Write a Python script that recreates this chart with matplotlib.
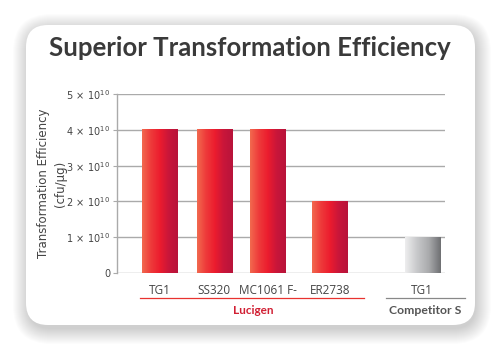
import numpy as np
import matplotlib
matplotlib.use("Agg")
import matplotlib.pyplot as plt
from matplotlib.patches import FancyBboxPatch
from matplotlib.colors import LinearSegmentedColormap

# data
strains = ["TG1", "SS320", "MC1061 F-", "ER2738", "TG1"]
efficiency = [4e10, 4e10, 4e10, 2e10, 1e10]
groups = ["Lucigen", "Competitor S"]
yticks = [0, 1e10, 2e10, 3e10, 4e10, 5e10]
ytick_labels = ["0"] + [r"%d$\,\times\,$10$^{10}$" % i for i in range(1, 6)]

# layout
bar_pos = [0, 1.01, 2.0, 3.15, 4.86]
bar_w = 0.65
is_lucigen = [True, True, True, True, False]

W, H = 500, 351
fig = plt.figure(figsize=(5, 3.51), dpi=100)
fig.patch.set_facecolor("white")
plt.rcParams["mathtext.fontset"] = "custom"
plt.rcParams["mathtext.rm"] = "Liberation Sans Narrow"

# card shadow + card (display coords, origin bottom-left)
cx, cy, cw, ch = 26, H - 325, 449, 300
for k in range(16, 0, -1):
    sh = FancyBboxPatch((cx - k + 3, cy - k - 3), cw + 2 * k - 3, ch + 2 * k - 2,
                        boxstyle="round,pad=0,rounding_size=%g" % (22 + k),
                        transform=None, facecolor="black", edgecolor="none",
                        alpha=0.011, zorder=-2)
    fig.patches.append(sh)
card = FancyBboxPatch((cx, cy), cw, ch, boxstyle="round,pad=0,rounding_size=22",
                      transform=None, facecolor="white", edgecolor="none", zorder=-1)
fig.patches.append(card)

fig.text(0.5, 1 - 48 / H, "Superior Transformation Efficiency", ha="center", va="center",
         fontsize=18.5, fontfamily="Lato", fontweight="bold", color="#3a3a3a")

left, right, top, bottom = 117, 445, 94, 273
ax = fig.add_axes([left / W, 1 - bottom / H, (right - left) / W, (bottom - top) / H])
ax.set_facecolor("none")
ax.set_zorder(2)

red_cmap = LinearSegmentedColormap.from_list("r", ["#f26a4f", "#ee3a3a", "#ec1c2e", "#c8163a", "#b8133a"])
grey_cmap = LinearSegmentedColormap.from_list("g", ["#eeeeef", "#c8c9cb", "#a9aaac", "#6e6f72"])
grad = np.linspace(0, 1, 256).reshape(1, -1)

for x, v, luc in zip(bar_pos, efficiency, is_lucigen):
    ax.imshow(grad, extent=[x - bar_w / 2, x + bar_w / 2, 0, v], aspect="auto",
              cmap=red_cmap if luc else grey_cmap, zorder=3, interpolation="bilinear")

ax.set_xlim(-0.79, 5.28)
ax.set_ylim(0, 5e10)
for y in yticks:
    ax.axhline(y, color="#aaaaaa", lw=1, zorder=1)
for s in ["top", "right", "bottom"]:
    ax.spines[s].set_visible(False)
ax.spines["left"].set_color("#aaaaaa")
ax.spines["left"].set_linewidth(1)
ax.set_yticks(yticks)
ax.set_yticklabels(ytick_labels)
ax.tick_params(axis="y", length=3, width=0.8, color="#aaaaaa", labelsize=7, labelcolor="#444444", pad=2)
for t in ax.get_yticklabels():
    t.set_fontfamily("Liberation Sans Narrow")
ax.set_xticks([])
ax.set_ylabel("Transformation Efficiency\n(cfu/\u03bcg)", fontsize=8.5, color="#444444",
              fontfamily="Liberation Sans Narrow", linespacing=1.35)
ax.yaxis.set_label_coords(-0.153, 0.5)

# x labels
for x, name in zip(bar_pos, strains):
    ax.text(x, -0.095, name, transform=ax.get_xaxis_transform(), ha="center", va="center",
            fontsize=8.5, fontfamily="Open Sans", color="#444444")

# group lines and labels
fig.add_artist(plt.Line2D([140 / W, 364 / W], [1 - 298 / H] * 2, color="#e8322f", lw=0.9))
fig.text(253 / W, 1 - 310 / H, groups[0], ha="center", va="center", fontsize=8.5,
         fontfamily="Lato", fontweight="bold", color="#d11f33")
fig.add_artist(plt.Line2D([386 / W, 465 / W], [1 - 298 / H] * 2, color="#888888", lw=0.9))
fig.text(425 / W, 1 - 310 / H, groups[1], ha="center", va="center", fontsize=8.8,
         fontfamily="Lato", fontweight="bold", color="#555555")

fig.savefig("out.png", dpi=100)
